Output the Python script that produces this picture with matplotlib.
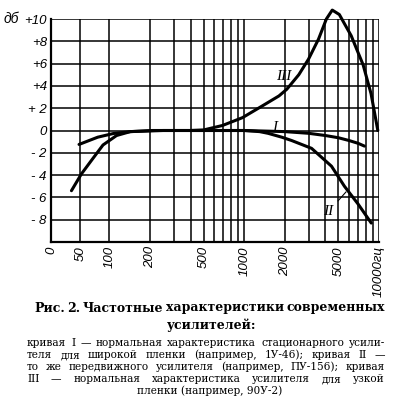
import numpy as np
import matplotlib
matplotlib.use('Agg')
import matplotlib.pyplot as plt

# frequency response curves (freq in Hz, level in dB)
curve1_f = [48, 80, 107, 143, 210, 500, 1000, 2000, 3000, 4000, 5000, 6000, 7000, 7800]
curve1_db = [-1.25, -0.6, -0.27, -0.1, 0, 0, 0, -0.1, -0.25, -0.45, -0.65, -0.9, -1.15, -1.4]

curve2_f = [35, 52, 69, 89, 113, 143, 250, 1000, 1300, 1500, 1900, 2250, 3160, 4440, 5540, 7000, 8760]
curve2_db = [-5.4, -3.9, -2.7, -1.3, -0.45, -0.1, 0, 0, -0.1, -0.25, -0.6, -0.9, -1.6, -3.2, -5.0, -6.6, -8.3]

curve3_f = [400, 500, 690, 970, 1360, 1810, 2070, 2540, 3000, 3560, 4070, 4500,
            5080, 5530, 6220, 6880, 7620, 8730, 9800]
curve3_db = [0, 0.05, 0.45, 1.15, 2.2, 3.1, 3.7, 5.0, 6.4, 8.2, 10.0, 10.8,
             10.4, 9.6, 8.5, 7.2, 5.9, 3.3, 0]

x_labels = ['0', '50', '100', '200', '500', '1000', '2000', '5000', '10000гц']
x_label_pos = [0, 50, 100, 200, 500, 1000, 2000, 5000, 10000]
x_grid = [50, 100, 200, 300, 400, 500, 600, 700, 800, 900,
          1000, 2000, 3000, 4000, 5000, 6000, 7000, 8000, 9000, 10000]
y_ticks = [-10, -8, -6, -4, -2, 0, 2, 4, 6, 8, 10]
y_labels = ['', '- 8', '- 6', '- 4', '- 2', '0', '+ 2', '+4', '+6', '+8', '+10']

title_lines = ['Рис. 2.  Частотные характеристики современных', 'усилителей:']
body_lines = ['кривая I — нормальная характеристика стационарного усили-',
              'теля для широкой пленки (например, 1У-46); кривая II —',
              'то же передвижного усилителя (например, ПУ-156); кривая',
              'III — нормальная характеристика усилителя для узкой',
              'пленки (например, 90У-2)']

W, H = 417, 396
fig = plt.figure(figsize=(W / 100, H / 100), dpi=100)
ax = fig.add_axes([51 / W, 1 - 242 / H, 328 / W, 223 / H])

ax.set_xscale('symlog', linthresh=100, linscale=0.39)
ax.set_xlim(0, 10000)
ax.set_ylim(-10, 10)

# every grid line sits on a frequency / level step
for f in x_grid:
    ax.axvline(f, color='black', lw=1.1)
for v in y_ticks:
    ax.axhline(v, color='black', lw=1.1)

for s in ['top', 'right']:
    ax.spines[s].set_visible(False)
ax.spines['left'].set_linewidth(1.6)
ax.spines['bottom'].set_linewidth(1.6)

lw = 2.2
ax.plot(curve1_f, curve1_db, color='black', lw=lw, solid_capstyle='round')
ax.plot(curve2_f, curve2_db, color='black', lw=lw, solid_capstyle='round')
ax.plot(curve3_f, curve3_db, color='black', lw=lw, solid_capstyle='round', clip_on=False)

lab = dict(family='Liberation Sans', fontstyle='italic')
ax.set_xticks(x_label_pos)
ax.set_xticklabels(x_labels, rotation=90, va='top', fontsize=9.5, **lab)
ax.set_xticks([], minor=True)
ax.set_yticks(y_ticks)
ax.set_yticklabels(y_labels, fontsize=9.5, **lab)
ax.tick_params(length=0, pad=3)

rom = dict(family='Liberation Serif', style='italic', fontsize=11)
ax.text(1690, 0.3, 'I', ha='center', va='center', **rom)
ax.text(1970, 4.8, 'III', ha='center', va='center', **rom)
ax.annotate('II', xy=(5700, -5.5), xytext=(4200, -7.3), ha='center', va='center',
            arrowprops=dict(arrowstyle='-', color='black', lw=0.8,
                            shrinkA=2, shrinkB=0), **rom)

fig.text(4 / W, 1 - 19 / H, 'дб', fontsize=10, ha='left', va='center', **lab)

# caption with justified lines
renderer = fig.canvas.get_renderer()

def justify(line, y, x0, x1, **kw):
    words = [w for w in line.split(' ') if w]
    texts = [fig.text(0, 1 - y / H, w, va='center', ha='left', **kw) for w in words]
    widths = [t.get_window_extent(renderer).width for t in texts]
    gap = (x1 - x0 - sum(widths)) / max(len(words) - 1, 1)
    pos = x0
    for t, w in zip(texts, widths):
        t.set_x(pos / W)
        pos += w + gap

tkw = dict(family='DejaVu Serif', fontsize=9, fontweight='bold')
justify(title_lines[0], 308, 34, 385, **tkw)
fig.text(212 / W, 1 - 325 / H, title_lines[1], ha='center', va='center', **tkw)

bkw = dict(family='DejaVu Serif', fontsize=7.6)
body_y = [343, 355, 367, 379, 391]
for i, line in enumerate(body_lines[:-1]):
    justify(line, body_y[i], 27, 385, **bkw)
fig.text(210 / W, 1 - body_y[-1] / H, body_lines[-1], ha='center', va='center', **bkw)

fig.savefig('out.png', dpi=100)
